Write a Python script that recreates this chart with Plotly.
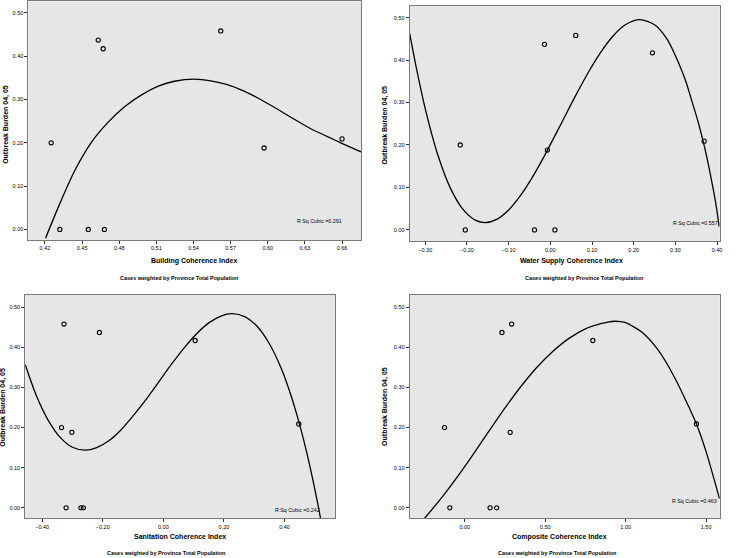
import plotly.graph_objects as go
from plotly.subplots import make_subplots

# ---- data ----
outbreak_burden = [0.200, 0.188, 0.417, 0.437, 0.458, 0.209, 0.000, 0.000, 0.000]
building_idx   = [0.425, 0.597, 0.467, 0.463, 0.562, 0.660, 0.432, 0.455, 0.468]
water_idx      = [-0.216, -0.007, 0.245, -0.014, 0.061, 0.369, -0.204, -0.038, 0.011]
sanitation_idx = [-0.336, -0.302, 0.105, -0.211, -0.328, 0.447, -0.321, -0.272, -0.264]
composite_idx  = [-0.126, 0.282, 0.796, 0.231, 0.291, 1.440, -0.093, 0.157, 0.198]

# cubic fit curves
b_fit_x = [0.4205, 0.4307, 0.4441, 0.4575, 0.4709, 0.4843, 0.4977, 0.5111, 0.5245, 0.5406,
           0.554, 0.5674, 0.5808, 0.5942, 0.6076, 0.621, 0.6344, 0.6478, 0.6612, 0.6754]
b_fit_y = [-0.020, 0.051, 0.136, 0.201, 0.247, 0.283, 0.310, 0.330, 0.342, 0.347,
           0.343, 0.334, 0.319, 0.300, 0.278, 0.255, 0.233, 0.215, 0.197, 0.179]

w_fit_x = [-0.3375, -0.32, -0.30, -0.27, -0.24, -0.21, -0.18, -0.157, -0.13, -0.10,
           -0.07, -0.04, -0.01, 0.029, 0.06, 0.09, 0.12, 0.15, 0.18, 0.215,
           0.25, 0.28, 0.31, 0.325, 0.34, 0.355, 0.37, 0.38, 0.39, 0.398, 0.405]
w_fit_y = [0.463, 0.375, 0.285, 0.177, 0.099, 0.049, 0.023, 0.017, 0.024, 0.047,
           0.083, 0.129, 0.182, 0.256, 0.315, 0.369, 0.417, 0.456, 0.483, 0.495,
           0.483, 0.449, 0.388, 0.350, 0.302, 0.253, 0.195, 0.150, 0.100, 0.056, 0.008]

s_fit_x = [-0.456, -0.42, -0.38, -0.34, -0.30, -0.2585, -0.22, -0.18, -0.14, -0.10,
           -0.06, -0.015, 0.03, 0.07, 0.11, 0.15, 0.19, 0.228, 0.27, 0.31,
           0.35, 0.39, 0.42, 0.4467, 0.47, 0.49, 0.51, 0.52]
s_fit_y = [0.357, 0.281, 0.218, 0.175, 0.151, 0.1435, 0.150, 0.167, 0.194, 0.229,
           0.267, 0.314, 0.361, 0.400, 0.434, 0.461, 0.478, 0.484, 0.476, 0.452,
           0.409, 0.346, 0.283, 0.216, 0.148, 0.082, 0.009, -0.031]

c_fit_x = [-0.25, -0.15, -0.05, 0.05, 0.15, 0.25, 0.35, 0.45, 0.55, 0.65,
           0.75, 0.85, 0.89, 0.93, 0.97, 1.0, 1.1, 1.2, 1.3, 1.4, 1.44, 1.5, 1.583]
c_fit_y = [-0.026, 0.022, 0.075, 0.132, 0.191, 0.249, 0.303, 0.351, 0.391, 0.423,
           0.446, 0.4595, 0.4630, 0.465, 0.464, 0.4615, 0.438, 0.394, 0.328, 0.245, 0.209, 0.140, 0.023]

x_titles = ["Building Coherence Index", "Water Supply Coherence Index",
            "Sanitation Coherence Index", "Composite Coherence Index"]
y_title = "Outbreak Burden 04, 05"
footnote = "Cases weighted by Province Total Population"
r_sq_labels = ["R Sq Cubic =0.291", "R Sq Cubic =0.557", "R Sq Cubic =0.242", "R Sq Cubic =0.463"]

y_ticks = [0.0, 0.1, 0.2, 0.3, 0.4, 0.5]
x_ticks = [
    [0.42, 0.45, 0.48, 0.51, 0.54, 0.57, 0.60, 0.63, 0.66],
    [-0.30, -0.20, -0.10, 0.00, 0.10, 0.20, 0.30, 0.40],
    [-0.40, -0.20, 0.00, 0.20, 0.40],
    [0.00, 0.50, 1.00, 1.50],
]

W, H = 740, 558
# pixel boxes of the four plot areas (left, right, top, bottom)
boxes = [(28.5, 362.7, 0.5, 239.3), (411.3, 722.7, 4.7, 240.7),
         (25.3, 336.7, 294.3, 518.3), (411.3, 722.7, 294.3, 518.3)]
x_ranges = [[0.4066, 0.6755], [-0.3375, 0.4065], [-0.456, 0.5677], [-0.343, 1.585]]
y_ranges = [[-0.024, 0.526], [-0.0268, 0.528], [-0.0264, 0.531], [-0.0264, 0.531]]
r_sq_pos = [(0.6418, 0.0185), (0.3475, 0.0165), (0.442, -0.0057), (1.43, 0.0167)]
xt_pos = [(195, 260), (574, 260), (180.3, 536.7), (562, 536.7)]
fn_pos = [(180, 277), (586.7, 277), (167.2, 553), (560, 553)]
yt_pos = [(5.3, 123.8), (386.7, 124.7), (2.7, 406.8), (386.7, 406.5)]

xs = [building_idx, water_idx, sanitation_idx, composite_idx]
fits = [(b_fit_x, b_fit_y), (w_fit_x, w_fit_y), (s_fit_x, s_fit_y), (c_fit_x, c_fit_y)]

fig = make_subplots(rows=2, cols=2)
FONT = "Liberation Sans"
annotations = []
for i in range(4):
    r, c = i // 2 + 1, i % 2 + 1
    fig.add_trace(go.Scatter(x=xs[i], y=outbreak_burden, mode="markers",
                             marker=dict(symbol="circle-open", size=4.2, color="black",
                                         line=dict(width=1.1, color="black")),
                             showlegend=False, hoverinfo="x+y"), row=r, col=c)
    fig.add_trace(go.Scatter(x=fits[i][0], y=fits[i][1], mode="lines",
                             line=dict(color="black", width=1.3, shape="spline", smoothing=0.8),
                             showlegend=False, hoverinfo="skip"), row=r, col=c)
    l, rt, t, b = boxes[i]
    sfx = "" if i == 0 else str(i + 1)
    fig.layout["xaxis" + sfx].update(
        domain=[l / W, rt / W], range=x_ranges[i], tickvals=x_ticks[i], tickformat=".2f",
        showgrid=False, zeroline=False, showline=True, mirror=True, linecolor="#7a7a7a",
        linewidth=1, ticks="outside", ticklen=3, tickcolor="#333", tickwidth=1,
        tickfont=dict(family=FONT, size=5.5, color="black"))
    fig.layout["yaxis" + sfx].update(
        domain=[1 - b / H, 1 - t / H], range=y_ranges[i], tickvals=y_ticks, tickformat=".2f",
        showgrid=False, zeroline=False, showline=True, mirror=True, linecolor="#7a7a7a",
        linewidth=1, ticks="outside", ticklen=3, tickcolor="#333", tickwidth=1,
        tickfont=dict(family=FONT, size=5.5, color="black"))
    annotations.append(dict(x=r_sq_pos[i][0], y=r_sq_pos[i][1], xref="x" + sfx, yref="y" + sfx,
                            text=r_sq_labels[i], showarrow=False, xanchor="center", yanchor="middle",
                            font=dict(family=FONT, size=5.3, color="black")))
    annotations.append(dict(x=xt_pos[i][0] / W, y=1 - xt_pos[i][1] / H, xref="paper", yref="paper",
                            text="<b>" + x_titles[i] + "</b>", showarrow=False,
                            xanchor="center", yanchor="middle",
                            font=dict(family=FONT, size=7, color="black")))
    annotations.append(dict(x=fn_pos[i][0] / W, y=1 - fn_pos[i][1] / H, xref="paper", yref="paper",
                            text="<b>" + footnote + "</b>", showarrow=False,
                            xanchor="center", yanchor="middle",
                            font=dict(family=FONT, size=5.5, color="black")))
    annotations.append(dict(x=yt_pos[i][0] / W, y=1 - yt_pos[i][1] / H, xref="paper", yref="paper",
                            text="<b>" + y_title + "</b>", showarrow=False, textangle=-90,
                            xanchor="center", yanchor="middle",
                            font=dict(family=FONT, size=7, color="black")))

fig.update_layout(width=W, height=H, margin=dict(l=0, r=0, t=0, b=0),
                  paper_bgcolor="white", plot_bgcolor="#e6e6e6",
                  annotations=annotations, showlegend=False)
fig.write_html("out.html", config={"displayModeBar": False},
               post_script="document.body.style.margin='0';")
